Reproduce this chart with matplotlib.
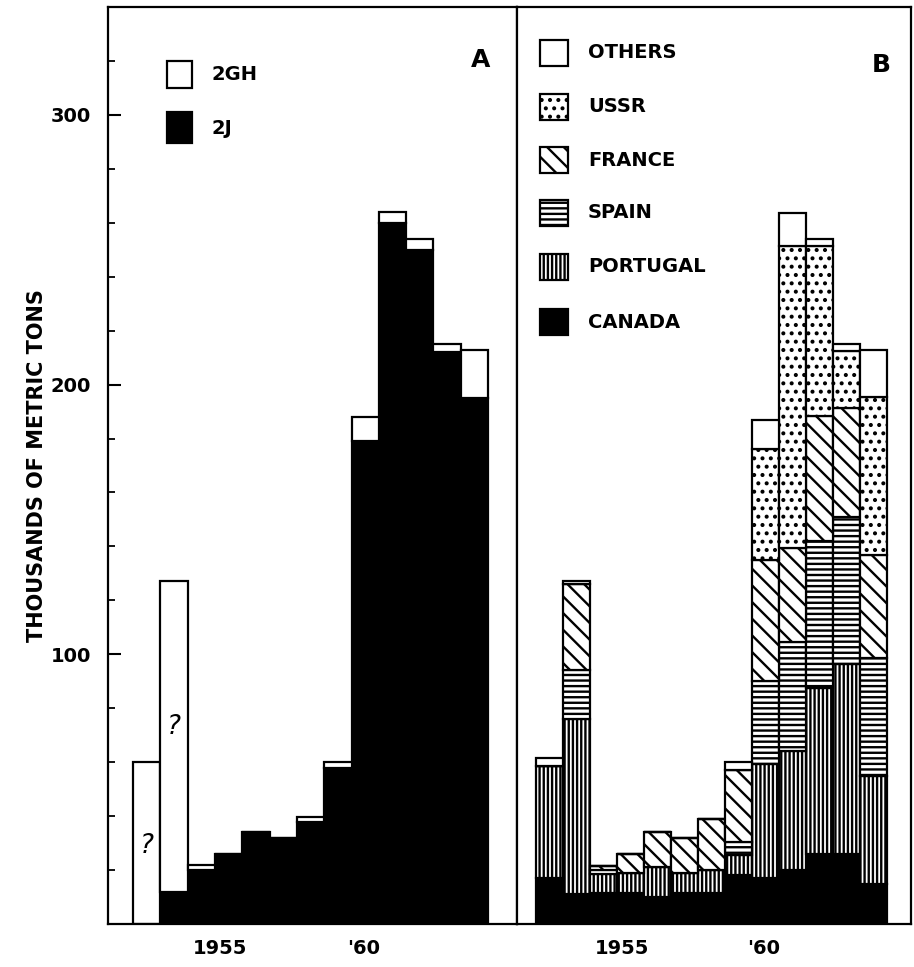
import matplotlib
matplotlib.use("Agg")
import matplotlib.pyplot as plt
from matplotlib.patches import Rectangle
from matplotlib.ticker import MultipleLocator, FixedLocator
import numpy as np

# ---------------- data ----------------
years = [1952, 1953, 1954, 1955, 1956, 1957, 1958, 1959, 1960, 1961, 1962, 1963, 1964]

# Panel A: by division (thousands of metric tons)
div_2j = [0, 12, 20, 26, 34, 32, 38, 58, 179, 260, 250, 212, 195]
div_2gh = [60, 115, 2, 0, 0, 0, 1.5, 2, 9, 4, 4, 3, 18]

# Panel B: by country
canada = [17, 11, 11.5, 11.5, 10, 11.5, 11.5, 18, 17, 20, 26, 26, 15]
portugal = [41.5, 65, 7, 7.5, 11, 7.5, 8.5, 7.5, 42.5, 44, 61.5, 70.5, 40]
spain = [0, 18, 1.5, 0, 0, 0, 0, 5, 30.5, 40.5, 54.5, 54.5, 43.5]
france = [0, 32, 1.5, 7, 13, 13, 19, 26.5, 45, 35, 46.5, 40.5, 38.5]
ussr = [0, 0, 0, 0, 0, 0, 0, 0, 41, 112, 63, 21, 58.5]
others = [3, 1, 0, 0, 0, 0, 0, 3, 11, 12, 2.5, 2.5, 17.5]

xtick_pos = [1954.7, 1959.95]
xtick_labels = ["1955", "'60"]
ytick_major = [100, 200, 300]

# ---------------- style ----------------
plt.rcParams['font.family'] = ['DejaVu Sans']
plt.rcParams['hatch.color'] = 'black'
plt.rcParams['hatch.linewidth'] = 1.7

W, H = 914, 967
fig = plt.figure(figsize=(W / 100, H / 100), dpi=100)

def frac(x0, x1, ytop, ybot):
    return [x0 / W, 1 - ybot / H, (x1 - x0) / W, (ybot - ytop) / H]

axA = fig.add_axes(frac(108, 517, 7, 924))
axB = fig.add_axes(frac(517, 911, 7, 924))

YMAX = 340
LW = 1.6

for ax in (axA, axB):
    ax.set_ylim(0, YMAX)
    for s in ax.spines.values():
        s.set_linewidth(LW)
    ax.set_xticks(xtick_pos)
    ax.set_xticklabels(xtick_labels, fontsize=14, fontweight='bold')
    ax.tick_params(axis='x', length=0, pad=11)

axA.set_xlim(1950.58, 1965.56)
axB.set_xlim(1950.8, 1965.4)

# ---------- Panel A ----------
barkw = dict(width=1.0, edgecolor='black', linewidth=LW)
axA.bar(years, div_2j, color='black', **barkw)
axA.bar(years, div_2gh, bottom=div_2j, color='white', **barkw)

axA.text(1952, 29, "?", ha='center', va='center', fontsize=19, style='italic')
axA.text(1953, 73, "?", ha='center', va='center', fontsize=19, style='italic')

axA.yaxis.set_major_locator(FixedLocator(ytick_major))
axA.yaxis.set_minor_locator(MultipleLocator(20))
axA.tick_params(axis='y', which='major', direction='in', length=9, width=1.5, pad=12,
                labelsize=14)
axA.tick_params(axis='y', which='minor', direction='in', length=5, width=1.3)
for lab in axA.get_yticklabels():
    lab.set_fontweight('bold')
axA.set_ylabel("THOUSANDS OF METRIC TONS", fontsize=15, fontweight='bold', labelpad=3)

# legend A (drawn manually)
axA.add_patch(Rectangle((0.144, 0.912), 0.061, 0.029, transform=axA.transAxes,
                        facecolor='white', edgecolor='black', lw=LW, clip_on=False))
axA.add_patch(Rectangle((0.144, 0.852), 0.061, 0.033, transform=axA.transAxes,
                        facecolor='black', edgecolor='black', lw=LW, clip_on=False))
axA.text(0.254, 0.926, "2GH", transform=axA.transAxes, fontsize=14, fontweight='bold',
         va='center', ha='left')
axA.text(0.254, 0.868, "2J", transform=axA.transAxes, fontsize=14, fontweight='bold',
         va='center', ha='left')
axA.text(0.91, 0.942, "A", transform=axA.transAxes, fontsize=18, fontweight='bold',
         va='center', ha='center')

# ---------- Panel B ----------
series = [
    ("CANADA", canada, dict(color='black')),
    ("PORTUGAL", portugal, dict(color='white', hatch='||||')),
    ("SPAIN", spain, dict(color='white', hatch='---')),
    ("FRANCE", france, dict(color='white', hatch='\\\\')),
    ("USSR", ussr, dict(color='white', hatch='..')),
    ("OTHERS", others, dict(color='white')),
]
bottom = np.zeros(len(years))
for name, vals, style in series:
    axB.bar(years, vals, bottom=bottom, **barkw, **style)
    bottom = bottom + np.array(vals)

axB.set_yticks([])
axB.tick_params(axis='y', left=False, labelleft=False)

# legend B (drawn manually), top to bottom
row_y = [53, 107, 160, 213, 267, 322]  # pixel rows of legend entries
for (name, vals, style), ry in zip(series[::-1], row_y):
    yc = (924 - ry) / 917
    axB.add_patch(Rectangle((0.058, yc - 0.0145), 0.072, 0.029, transform=axB.transAxes,
                            edgecolor='black', lw=LW, clip_on=False,
                            facecolor=style.get('color'), hatch=style.get('hatch')))
    axB.text(0.18, yc, name, transform=axB.transAxes, fontsize=14, fontweight='bold',
             va='center', ha='left')
axB.text(0.924, 0.937, "B", transform=axB.transAxes, fontsize=18, fontweight='bold',
         va='center', ha='center')

fig.savefig("out.png", dpi=100)
